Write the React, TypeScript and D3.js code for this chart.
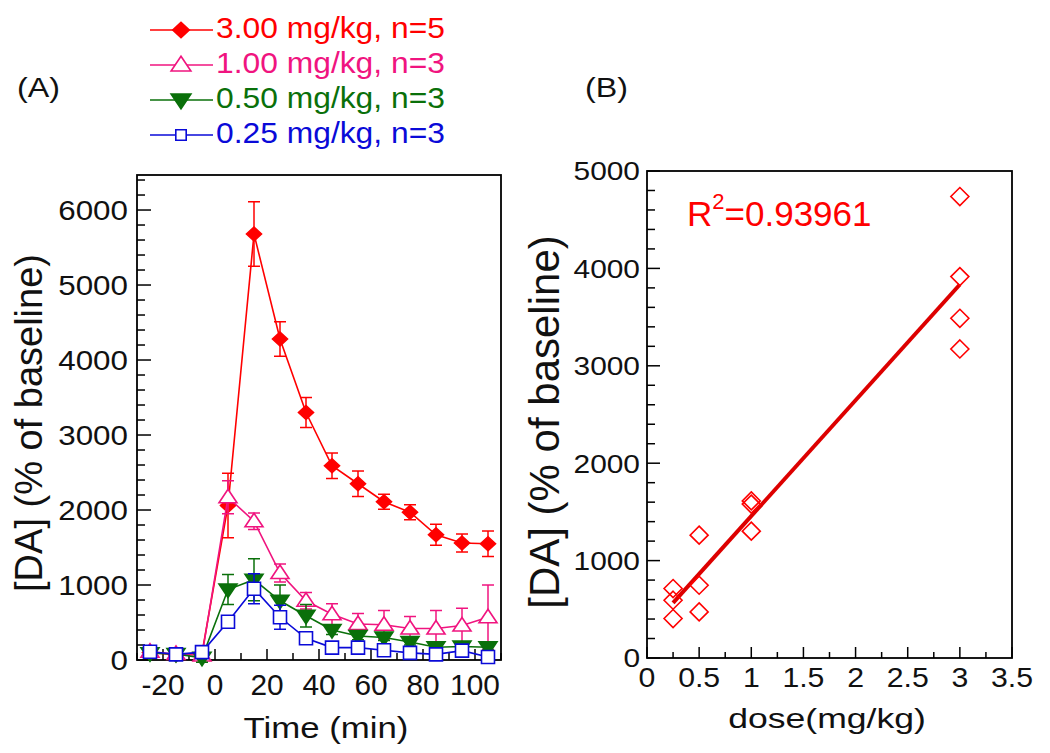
import React from 'react';
import * as d3 from 'd3';

// ---------- Panel A data ----------
const times = [-25, -15, -5, 5, 15, 25, 35, 45, 55, 65, 75, 85, 95, 105];
const mean300 = [100, 70, 90, 2060, 5680, 4280, 3300, 2590, 2350, 2110, 1970, 1670, 1560, 1550];
const err300 = [30, 30, 30, 430, 430, 230, 200, 170, 170, 100, 100, 140, 120, 170];
const mean100 = [110, 80, 60, 2170, 1850, 1160, 790, 610, 480, 470, 420, 420, 460, 570];
const err100 = [20, 20, 20, 220, 110, 120, 110, 140, 140, 190, 160, 240, 230, 430];
const mean050 = [90, 80, 30, 940, 1070, 790, 590, 400, 320, 300, 240, 170, 180, 170];
const err050 = [30, 20, 60, 200, 280, 210, 150, 60, 50, 40, 40, 40, 40, 40];
const mean025 = [110, 75, 105, 510, 950, 570, 290, 165, 165, 130, 95, 75, 125, 40];
const err025 = [40, 30, 30, 40, 200, 160, 50, 50, 40, 40, 40, 40, 40, 40];

const legendLabels = ['3.00 mg/kg, n=5', '1.00 mg/kg, n=3', '0.50 mg/kg, n=3', '0.25 mg/kg, n=3'];
const seriesColors = ['#ff0000', '#f0147f', '#0a700a', '#0a0ad8'];
const seriesMarkers = ['diamond', 'triUp', 'triDown', 'square'];

const aYTicks = [0, 1000, 2000, 3000, 4000, 5000, 6000];
const aYMinor = [200, 400, 600, 800, 1200, 1400, 1600, 1800, 2200, 2400, 2600, 2800, 3200, 3400, 3600, 3800, 4200, 4400, 4600, 4800, 5200, 5400, 5600, 5800, 6200, 6400];
const aXTicks = [-20, 0, 20, 40, 60, 80, 100];
const aXMinor = [-30, -10, 10, 30, 50, 70, 90, 110];

// ---------- Panel B data ----------
const scatterDose = [0.25, 0.25, 0.25, 0.5, 0.5, 0.5, 1, 1, 1, 3, 3, 3, 3];
const scatterDA = [713, 593, 405, 1261, 747, 473, 1613, 1580, 1302, 4738, 3916, 3488, 3173];
const bYTicks = [0, 1000, 2000, 3000, 4000, 5000];
const bYMinor = [200, 400, 600, 800, 1200, 1400, 1600, 1800, 2200, 2400, 2600, 2800, 3200, 3400, 3600, 3800, 4200, 4400, 4600, 4800];
const bXTicks = [0, 0.5, 1, 1.5, 2, 2.5, 3, 3.5];
const bXMinor = [0.25, 0.75, 1.25, 1.75, 2.25, 2.75, 3.25];
const r2Label = '0.93961';

const FONT = '"Liberation Sans", Arial, Helvetica, sans-serif';

function SText({ x, y, sx = 1, size, anchor = 'start', fill = '#111', rotate = 0, children, dy = 0 }: any) {
  const tr = `translate(${x},${y})` + (rotate ? ` rotate(${rotate})` : '') + ` scale(${sx},1)`;
  return (
    <text transform={tr} fontSize={size} textAnchor={anchor} fill={fill} fontFamily={FONT} dy={dy}>
      {children}
    </text>
  );
}

function markerPath(kind: string, s = 1) {
  switch (kind) {
    case 'diamond':
      return `M0,${-7 * s}L${7.5 * s},0L0,${7 * s}L${-7.5 * s},0Z`;
    case 'triUp':
      return `M0,${-8 * s}L${9 * s},${5.5 * s}L${-9 * s},${5.5 * s}Z`;
    case 'triDown':
      return `M0,${8 * s}L${9 * s},${-5.5 * s}L${-9 * s},${-5.5 * s}Z`;
    case 'square':
    default:
      return `M${-6.5 * s},${-6.5 * s}H${6.5 * s}V${6.5 * s}H${-6.5 * s}Z`;
  }
}

function Marker({ kind, x, y, color, s = 1 }: any) {
  const filled = kind === 'diamond' || kind === 'triDown';
  return (
    <path
      d={markerPath(kind, s)}
      transform={`translate(${x},${y})`}
      fill={filled ? color : '#fff'}
      stroke={color}
      strokeWidth={1.6}
    />
  );
}

export default function App() {
  // Panel A scales
  const ax = d3.scaleLinear().domain([-30, 110]).range([137, 501]);
  const ay = d3.scaleLinear().domain([0, 6467]).range([660, 175]);
  // Panel B scales
  const bx = d3.scaleLinear().domain([0, 3.5]).range([647, 1012]);
  const by = d3.scaleLinear().domain([0, 5000]).range([658, 171]);

  const means = [mean300, mean100, mean050, mean025];
  const errs = [err300, err100, err050, err025];

  const line = d3
    .line<number>()
    .x((_, i) => ax(times[i]))
    .y((d) => ay(d));

  // regression
  const mx = d3.mean(scatterDose) as number;
  const my = d3.mean(scatterDA) as number;
  let sxy = 0,
    sxx = 0;
  scatterDose.forEach((d, i) => {
    sxy += (d - mx) * (scatterDA[i] - my);
    sxx += (d - mx) * (d - mx);
  });
  const slope = sxy / sxx;
  const icpt = my - slope * mx;
  const xMin = d3.min(scatterDose) as number;
  const xMax = d3.max(scatterDose) as number;

  const legendY = [30, 65, 100, 135];

  return (
    <svg
      width={1050}
      height={753}
      style={{ position: 'absolute', left: 0, top: 0, background: '#fff' }}
      fontFamily={FONT}
    >
      <rect x={0} y={0} width={1050} height={753} fill="#fff" />

      {/* Legend */}
      {legendLabels.map((lab, i) => (
        <g key={lab}>
          <line x1={150} x2={213} y1={legendY[i]} y2={legendY[i]} stroke={seriesColors[i]} strokeWidth={1.6} />
          <Marker kind={seriesMarkers[i]} x={181} y={legendY[i]} color={seriesColors[i]} s={seriesMarkers[i] === 'square' ? 0.8 : 1.1} />
          <SText x={216} y={legendY[i] + 8} size={30} sx={1.06} fill={seriesColors[i]}>
            {lab}
          </SText>
        </g>
      ))}

      <SText x={17} y={97} size={28} sx={1.15}>(A)</SText>
      <SText x={585} y={97} size={28} sx={1.15}>(B)</SText>

      {/* ---------- Panel A ---------- */}
      <g>
        {aYMinor.map((t) => (
          <line key={'aym' + t} x1={137} x2={145} y1={ay(t)} y2={ay(t)} stroke="#000" strokeWidth={1.5} />
        ))}
        {aYTicks.map((t) => (
          <g key={'ay' + t}>
            <line x1={137} x2={151} y1={ay(t)} y2={ay(t)} stroke="#000" strokeWidth={1.5} />
            <SText x={128} y={ay(t)} size={28} sx={1.12} anchor="end" dy="0.36em">
              {String(t)}
            </SText>
          </g>
        ))}
        {aXMinor.map((t) => (
          <line key={'axm' + t} x1={ax(t)} x2={ax(t)} y1={660} y2={653} stroke="#000" strokeWidth={1.5} />
        ))}
        {aXTicks.map((t) => (
          <g key={'ax' + t}>
            <line x1={ax(t)} x2={ax(t)} y1={660} y2={649} stroke="#000" strokeWidth={1.5} />
            <SText x={ax(t)} y={695} size={29} sx={1.03} anchor="middle">
              {String(t)}
            </SText>
          </g>
        ))}
        <rect x={137} y={175} width={364} height={485} fill="none" stroke="#000" strokeWidth={1.8} />

        {means.map((m, si) => (
          <g key={'s' + si}>
            {m.map((v, i) => {
              const x = ax(times[i]);
              const y1 = ay(v + errs[si][i]);
              const y2 = ay(v - errs[si][i]);
              return (
                <g key={i} stroke={seriesColors[si]} strokeWidth={1.5}>
                  <line x1={x} x2={x} y1={y1} y2={y2} />
                  <line x1={x - 6} x2={x + 6} y1={y1} y2={y1} />
                  <line x1={x - 6} x2={x + 6} y1={y2} y2={y2} />
                </g>
              );
            })}
            <path d={line(m) || ''} fill="none" stroke={seriesColors[si]} strokeWidth={1.6} />
            {m.map((v, i) => (
              <Marker key={'mk' + i} kind={seriesMarkers[si]} x={ax(times[i])} y={ay(v)} color={seriesColors[si]} />
            ))}
          </g>
        ))}

        <SText x={326} y={738} size={29} sx={1.2} anchor="middle">Time (min)</SText>
        <SText x={42} y={423} size={38} rotate={-90} anchor="middle">[DA] (% of baseline)</SText>
      </g>

      {/* ---------- Panel B ---------- */}
      <g>
        {bYMinor.map((t) => (
          <line key={'bym' + t} x1={647} x2={655} y1={by(t)} y2={by(t)} stroke="#000" strokeWidth={1.5} />
        ))}
        {bYTicks.map((t) => (
          <g key={'by' + t}>
            <line x1={647} x2={660} y1={by(t)} y2={by(t)} stroke="#000" strokeWidth={1.5} />
            <SText x={640} y={by(t)} size={26} sx={1.15} anchor="end" dy="0.36em">
              {String(t)}
            </SText>
          </g>
        ))}
        {bXMinor.map((t) => (
          <line key={'bxm' + t} x1={bx(t)} x2={bx(t)} y1={658} y2={652} stroke="#000" strokeWidth={1.5} />
        ))}
        {bXTicks.map((t) => (
          <g key={'bx' + t}>
            <line x1={bx(t)} x2={bx(t)} y1={658} y2={647} stroke="#000" strokeWidth={1.5} />
            <SText x={bx(t)} y={687} size={28} sx={1.08} anchor="middle">
              {String(t)}
            </SText>
          </g>
        ))}
        <rect x={647} y={171} width={365} height={487} fill="none" stroke="#000" strokeWidth={1.8} />

        <line
          x1={bx(xMin)}
          x2={bx(xMax)}
          y1={by(icpt + slope * xMin)}
          y2={by(icpt + slope * xMax)}
          stroke="#dd0000"
          strokeWidth={4}
        />
        {scatterDose.map((d, i) => (
          <path
            key={'sc' + i}
            d="M0,-9L9,0L0,9L-9,0Z"
            transform={`translate(${bx(d)},${by(scatterDA[i])})`}
            fill="none"
            stroke="#ff0000"
            strokeWidth={1.6}
          />
        ))}

        <text x={687} y={226} fontSize={35} fill="#ff0000" fontFamily={FONT}>
          R
          <tspan fontSize={22} dy={-17}>2</tspan>
          <tspan dy={17}>={r2Label}</tspan>
        </text>

        <SText x={827} y={728} size={28} sx={1.27} anchor="middle">dose(mg/kg)</SText>
        <SText x={559} y={422} size={42} rotate={-90} anchor="middle">[DA] (% of baseline)</SText>
      </g>
    </svg>
  );
}
